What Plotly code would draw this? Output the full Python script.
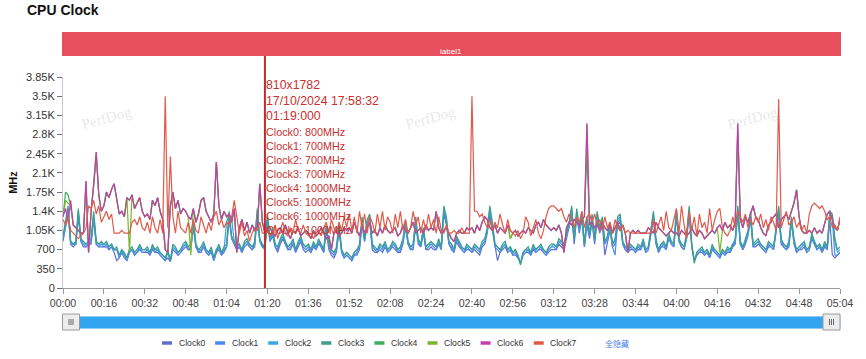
import plotly.graph_objects as go

# ---------------- data ----------------
seconds = list(range(305))
tick_seconds = list(range(0, 305, 16))
tick_labels = ["%02d:%02d" % (s // 60, s % 60) for s in tick_seconds]
y_tick_values = [0, 350, 700, 1050, 1400, 1750, 2100, 2450, 2800, 3150, 3500, 3850]
y_tick_labels = ["0", "350", "700", "1.05K", "1.4K", "1.75K", "2.1K", "2.45K", "2.8K", "3.15K", "3.5K", "3.85K"]

series_names = ["Clock0", "Clock1", "Clock2", "Clock3", "Clock4", "Clock5", "Clock6", "Clock7"]
series_colors = ["#6070c8", "#4a8af4", "#35a8de", "#3f9d8a", "#3cad5a", "#7ab52a", "#c23db4", "#e05a4a"]

clock0 = [
    850, 1100, 1350, 800, 750, 800, 1300, 850, 750, 750, 800, 800, 1250, 800, 750, 750,
    750, 750, 700, 750, 650, 500, 550, 650, 550, 500, 650, 700, 600, 650, 700, 650,
    650, 650, 600, 700, 650, 650, 600, 550, 500, 550, 480, 700, 650, 600, 650, 700,
    750, 700, 700, 1100, 750, 650, 650, 750, 650, 600, 650, 500, 650, 700, 600, 650,
    750, 1250, 900, 800, 700, 750, 650, 750, 800, 750, 700, 750, 1300, 850, 750, 800,
    1200, 850, 950, 750, 650, 800, 900, 800, 700, 700, 800, 650, 750, 850, 700, 650,
    700, 650, 750, 700, 800, 750, 650, 1050, 700, 600, 550, 650, 1050, 650, 550, 600,
    550, 500, 600, 600, 700, 1150, 850, 1150, 1200, 700, 650, 650, 700, 650, 750, 650,
    700, 750, 700, 650, 650, 800, 1100, 800, 700, 700, 1150, 800, 750, 1000, 700, 700,
    750, 700, 700, 800, 700, 1350, 1150, 800, 700, 650, 850, 750, 700, 650, 700, 700,
    650, 700, 650, 600, 750, 800, 1000, 1350, 1050, 750, 500, 650, 700, 750, 650, 700,
    600, 600, 550, 450, 600, 650, 650, 600, 700, 650, 700, 700, 650, 600, 650, 700,
    700, 700, 800, 750, 700, 900, 1100, 1350, 800, 1300, 1000, 1250, 750, 1150, 900, 1200,
    800, 1250, 1000, 1150, 600, 850, 1050, 750, 800, 1150, 1200, 800, 700, 650, 700, 700,
    650, 700, 700, 800, 650, 700, 1000, 1250, 800, 650, 750, 750, 700, 900, 800, 750,
    1300, 850, 750, 700, 900, 1350, 750, 500, 600, 650, 650, 600, 650, 550, 700, 650,
    600, 550, 650, 600, 650, 650, 750, 800, 1350, 800, 700, 800, 950, 1250, 750, 750,
    800, 750, 700, 650, 750, 750, 700, 1000, 1350, 800, 750, 700, 750, 1200, 800, 650,
    700, 700, 750, 650, 700, 900, 800, 700, 750, 650, 750, 700, 1250, 600, 550, 600,
    650,
]

clock1 = [
    900, 1150, 1400, 800, 800, 800, 1350, 850, 800, 750, 800, 850, 1300, 800, 750, 800,
    750, 800, 700, 750, 700, 700, 550, 650, 600, 500, 650, 700, 600, 650, 750, 650,
    650, 700, 600, 750, 650, 700, 600, 550, 500, 650, 500, 750, 700, 600, 650, 750,
    800, 700, 750, 1150, 750, 650, 700, 800, 650, 600, 700, 500, 650, 750, 600, 700,
    750, 1300, 900, 800, 700, 750, 650, 800, 850, 750, 700, 800, 1350, 850, 750, 700,
    1250, 850, 1000, 750, 700, 850, 950, 800, 700, 750, 850, 650, 800, 900, 750, 700,
    750, 650, 800, 700, 850, 750, 650, 1100, 750, 650, 600, 700, 1100, 650, 550, 600,
    550, 500, 600, 650, 750, 1200, 850, 1200, 1250, 750, 700, 650, 750, 700, 800, 650,
    700, 800, 750, 650, 700, 850, 1150, 800, 700, 750, 1200, 850, 750, 1050, 700, 750,
    800, 750, 700, 850, 700, 1400, 1200, 800, 750, 650, 900, 800, 700, 650, 750, 700,
    650, 750, 700, 650, 800, 850, 1050, 1400, 1100, 750, 700, 650, 750, 800, 650, 700,
    600, 650, 550, 450, 600, 650, 700, 600, 750, 650, 700, 750, 650, 600, 700, 750,
    750, 700, 850, 800, 750, 950, 1100, 1400, 850, 1350, 1050, 1300, 750, 1200, 950, 1250,
    850, 1300, 1050, 1200, 800, 900, 1100, 750, 600, 1200, 1250, 800, 700, 650, 750, 700,
    650, 750, 700, 850, 650, 700, 1050, 1300, 850, 650, 750, 800, 700, 950, 800, 750,
    1350, 850, 750, 700, 950, 1400, 750, 500, 600, 650, 700, 600, 650, 550, 750, 650,
    600, 550, 650, 600, 700, 650, 750, 850, 1400, 800, 700, 850, 1000, 1300, 750, 800,
    850, 750, 700, 650, 800, 750, 700, 1050, 1400, 850, 750, 700, 800, 1250, 850, 650,
    700, 750, 800, 650, 700, 950, 800, 700, 750, 650, 800, 700, 1300, 1250, 600, 600,
    650,
]

clock2 = [
    900, 1200, 1450, 850, 800, 800, 1400, 900, 800, 800, 850, 850, 1350, 850, 800, 800,
    800, 800, 750, 800, 700, 700, 600, 700, 600, 550, 700, 700, 650, 700, 750, 700,
    700, 700, 650, 750, 700, 700, 650, 600, 550, 650, 500, 750, 700, 650, 700, 750,
    800, 750, 800, 1200, 800, 700, 700, 800, 700, 650, 700, 550, 700, 750, 650, 700,
    1200, 1350, 1250, 850, 750, 800, 700, 800, 850, 800, 750, 800, 1400, 850, 800, 700,
    1300, 900, 1050, 800, 750, 850, 950, 850, 750, 800, 850, 700, 800, 900, 800, 750,
    800, 700, 800, 750, 850, 800, 700, 1100, 800, 700, 650, 700, 1150, 700, 600, 650,
    600, 550, 650, 700, 750, 1250, 900, 1200, 1300, 800, 700, 700, 800, 750, 800, 700,
    750, 800, 800, 700, 750, 850, 1200, 850, 750, 800, 1250, 850, 800, 1050, 750, 800,
    800, 800, 750, 850, 750, 1450, 1250, 850, 800, 700, 900, 850, 750, 700, 750, 750,
    700, 750, 750, 700, 800, 850, 1050, 1450, 1150, 800, 750, 700, 750, 800, 700, 750,
    650, 700, 600, 450, 650, 700, 700, 650, 750, 700, 750, 750, 700, 650, 700, 750,
    800, 750, 850, 850, 800, 950, 1150, 1450, 900, 1400, 1050, 1350, 800, 1250, 1000, 1300,
    900, 1350, 1050, 1250, 850, 900, 1150, 800, 850, 1250, 1300, 850, 750, 700, 750, 750,
    700, 750, 750, 850, 700, 750, 1050, 1350, 850, 700, 800, 800, 750, 950, 850, 800,
    1400, 900, 800, 750, 950, 1450, 800, 500, 650, 700, 700, 650, 700, 600, 750, 700,
    650, 600, 700, 650, 700, 700, 800, 850, 1450, 850, 750, 850, 1000, 1350, 800, 800,
    850, 800, 750, 700, 800, 800, 750, 1050, 1450, 850, 800, 750, 800, 1250, 850, 700,
    750, 800, 800, 700, 750, 950, 850, 750, 800, 700, 800, 750, 1350, 1300, 850, 650,
    700,
]

clock3 = [
    950, 1250, 1500, 850, 800, 850, 1450, 900, 850, 800, 850, 900, 1400, 850, 800, 850,
    800, 850, 750, 800, 700, 750, 600, 700, 650, 550, 700, 750, 650, 700, 800, 700,
    700, 750, 650, 800, 700, 750, 650, 600, 550, 700, 500, 800, 750, 650, 700, 800,
    850, 750, 800, 1250, 800, 700, 750, 850, 700, 650, 750, 550, 700, 800, 650, 750,
    800, 1400, 950, 850, 750, 800, 700, 850, 900, 800, 750, 850, 1450, 900, 800, 700,
    1350, 900, 1100, 800, 750, 900, 1000, 850, 750, 800, 900, 700, 850, 950, 800, 750,
    800, 700, 850, 750, 900, 800, 700, 1150, 800, 700, 650, 750, 1200, 700, 600, 650,
    600, 550, 650, 700, 800, 1300, 900, 1250, 1350, 800, 750, 700, 800, 750, 850, 700,
    750, 850, 800, 700, 750, 900, 1250, 850, 750, 800, 1300, 900, 800, 1100, 750, 800,
    850, 800, 750, 900, 750, 1500, 1300, 850, 800, 700, 950, 850, 750, 700, 800, 750,
    700, 800, 750, 700, 850, 900, 1100, 1500, 1200, 800, 750, 700, 800, 850, 700, 750,
    650, 700, 600, 420, 650, 700, 750, 650, 800, 700, 750, 800, 700, 650, 750, 800,
    800, 750, 900, 850, 800, 1000, 1200, 1500, 900, 1450, 1100, 1400, 800, 1300, 1000, 1350,
    900, 1400, 1100, 1300, 850, 950, 1200, 800, 900, 1300, 1350, 850, 750, 700, 800, 750,
    700, 800, 750, 900, 700, 750, 1100, 1400, 900, 700, 800, 850, 750, 1000, 850, 800,
    1450, 900, 800, 750, 1000, 1500, 800, 450, 650, 700, 750, 650, 700, 600, 800, 700,
    650, 600, 700, 650, 750, 700, 800, 900, 1500, 850, 750, 900, 1050, 1400, 800, 850,
    900, 800, 750, 700, 850, 800, 750, 1100, 1500, 900, 800, 750, 850, 1300, 900, 700,
    750, 800, 850, 700, 750, 1000, 850, 750, 800, 700, 850, 750, 1400, 1350, 900, 700,
    750,
]

clock4 = [
    1300, 1750, 1700, 1500, 1150, 1100, 1050, 1000, 1000, 1900, 650, 1400, 1850, 2400, 1700, 1400,
    1500, 1750, 1650, 1800, 1900, 1600, 1350, 1400, 1300, 1650, 1600, 1700, 1450, 1550, 1650, 1400,
    1300, 1350, 1250, 1600, 1500, 1650, 1400, 1250, 700, 650, 1500, 1750, 1450, 1600, 1350, 1450,
    1400, 1300, 1250, 1450, 1200, 1350, 1600, 1650, 1400, 1300, 1200, 1350, 2300, 1500, 1250, 1400,
    1300, 1350, 1200, 1450, 650, 1100, 1250, 1050, 1200, 1000, 1150, 1050, 1100, 1900, 1200, 1000,
    1050, 1100, 1000, 950, 1050, 1100, 1000, 1150, 1000, 900, 1050, 1000, 1100, 950, 1000, 1050,
    1000, 900, 1050, 950, 1000, 1100, 1000, 900, 950, 700, 1000, 1050, 950, 1000, 1100, 1050,
    1100, 1000, 1200, 1050, 950, 1150, 1000, 1100, 1200, 1000, 1050, 950, 1100, 1000, 1150, 1050,
    1000, 1050, 1100, 950, 1000, 1150, 1050, 1000, 1100, 1200, 1000, 1050, 1100, 1000, 1150, 1050,
    1100, 1050, 1400, 1100, 1000, 1050, 1100, 1000, 900, 850, 1000, 1050, 1000, 1000, 1100, 1050,
    1100, 1000, 1150, 1050, 1200, 1300, 1250, 1100, 1050, 1150, 1000, 1100, 1050, 1000, 1150, 900,
    1000, 1050, 950, 1000, 1050, 1000, 1100, 1050, 1000, 1150, 1200, 1100, 1250, 1150, 1100, 1050,
    1100, 1050, 1150, 1000, 650, 1100, 1200, 1150, 1250, 1200, 1150, 1250, 1300, 2500, 1150, 1200,
    1100, 1150, 1050, 1200, 1100, 1050, 1150, 1000, 1100, 1200, 1050, 1150, 1000, 650, 1000, 1050,
    1000, 1050, 1000, 1000, 1000, 1100, 1050, 1000, 1200, 1100, 1050, 1000, 950, 1000, 1050, 1000,
    1000, 950, 1050, 1000, 950, 1000, 1100, 1000, 950, 1050, 1000, 900, 950, 1000, 1050, 1000,
    1100, 1150, 1050, 1200, 1100, 1150, 1050, 1200, 2800, 1250, 1100, 1300, 1200, 1350, 1500, 1300,
    1250, 1100, 1000, 950, 1150, 1200, 1300, 1350, 1100, 1250, 1300, 1350, 1250, 1400, 1550, 1790,
    1300, 1050, 1000, 1000, 1050, 1000, 1100, 1000, 1050, 1000, 1200, 1350, 1400, 1250, 1100, 1050,
    1250,
]

clock5 = [
    1300, 1600, 1550, 1500, 1150, 1100, 1050, 1000, 1000, 1950, 650, 1400, 1900, 2480, 1700, 1400,
    1500, 1750, 1650, 1800, 1900, 1600, 1350, 1400, 1300, 1650, 650, 1700, 1450, 1550, 1650, 1400,
    1300, 1350, 1250, 1600, 1500, 1650, 1400, 1250, 700, 650, 1500, 1750, 1450, 1600, 1350, 1450,
    1400, 1300, 600, 1450, 1200, 1350, 1600, 1650, 1400, 1300, 1200, 1350, 2300, 1500, 1250, 1400,
    1300, 1350, 1200, 1450, 650, 1100, 1250, 1050, 1200, 1000, 1150, 1050, 1100, 1900, 1200, 1000,
    1050, 1100, 1000, 950, 1050, 1100, 1000, 1150, 1000, 900, 1050, 1000, 1100, 950, 1000, 1050,
    1000, 900, 1050, 950, 1000, 1100, 1000, 900, 950, 700, 1000, 1050, 950, 1000, 1100, 1050,
    1100, 1000, 1200, 1050, 950, 1150, 1000, 1100, 1200, 1000, 1050, 950, 1100, 1000, 1150, 1050,
    1000, 1050, 1100, 950, 1000, 1150, 1050, 1000, 1100, 1200, 1000, 1050, 1100, 1000, 1150, 1050,
    1100, 1050, 1400, 1100, 1000, 1050, 1100, 1000, 900, 850, 1000, 1050, 1000, 1000, 1100, 1050,
    1100, 1000, 1150, 1050, 1200, 1300, 1250, 1100, 1050, 1150, 1000, 1100, 1050, 1000, 1150, 900,
    1000, 1050, 950, 1000, 1050, 1000, 1100, 1050, 1000, 1150, 1200, 1100, 1250, 1150, 1100, 1050,
    1100, 1050, 1150, 1000, 650, 1100, 1200, 1150, 1250, 1200, 1150, 1250, 1300, 3000, 1150, 1200,
    1100, 1150, 1050, 1200, 1100, 1050, 1150, 1000, 1100, 1200, 1050, 1150, 1000, 650, 1000, 1050,
    1000, 1050, 1000, 1000, 1000, 1100, 1050, 1000, 1200, 1100, 1050, 1000, 950, 1000, 1050, 1000,
    1000, 950, 1050, 1000, 950, 1000, 1100, 1000, 950, 1050, 1000, 900, 950, 1000, 1050, 1000,
    1100, 650, 1050, 1200, 1100, 1150, 1050, 1200, 3000, 1250, 1100, 1300, 1200, 1350, 1500, 1300,
    1250, 1100, 1000, 950, 1150, 1200, 1300, 1350, 1100, 1250, 1300, 1350, 1250, 1400, 1550, 1790,
    1300, 1050, 1000, 1000, 1050, 1000, 1100, 1000, 1050, 1000, 1200, 1350, 1400, 1250, 1100, 1050,
    1250,
]

clock6 = [
    1300, 1450, 1200, 1600, 1150, 1100, 1050, 1000, 1000, 1950, 650, 1400, 1900, 2480, 1700, 1400,
    1500, 1750, 1650, 1800, 1900, 1600, 1350, 1400, 1300, 1650, 1600, 1700, 1450, 1550, 1650, 1400,
    1300, 1350, 1250, 1600, 1500, 1650, 1400, 1250, 700, 650, 1500, 1750, 1450, 1600, 1350, 1450,
    1400, 1300, 1250, 1450, 1200, 1350, 1600, 1650, 1400, 1300, 1200, 1350, 2300, 1500, 1250, 1400,
    1300, 1350, 1200, 1450, 650, 1100, 1250, 1050, 1200, 1000, 1150, 1050, 1100, 1900, 1200, 1000,
    1050, 1100, 1000, 950, 1050, 1100, 1000, 1150, 1000, 900, 1050, 1000, 1100, 950, 1000, 1050,
    1000, 900, 1050, 950, 1000, 1100, 1000, 900, 950, 700, 1000, 1050, 950, 1000, 1100, 1050,
    1100, 1000, 1200, 1050, 950, 1150, 1000, 1100, 1200, 1000, 1050, 950, 1100, 1000, 1150, 1050,
    1000, 1050, 1100, 950, 1000, 1150, 1050, 1000, 1100, 1200, 1000, 1050, 1100, 1000, 1150, 1050,
    1100, 1050, 1400, 1100, 1000, 1050, 1100, 1000, 900, 850, 1000, 1050, 1000, 1000, 1100, 1050,
    1100, 1000, 1150, 1050, 1200, 1300, 1250, 1100, 1050, 1150, 1000, 1100, 1050, 1000, 1150, 1050,
    1000, 1050, 950, 1000, 1050, 1000, 1100, 1050, 1000, 1150, 1200, 1100, 1250, 1150, 1100, 1050,
    1100, 1050, 1150, 1000, 650, 1100, 1200, 1150, 1250, 1200, 1150, 1250, 1300, 3000, 1150, 1200,
    1100, 1150, 1050, 1200, 1100, 1050, 1150, 1000, 1100, 1200, 1050, 1150, 1000, 650, 1000, 1050,
    1000, 1050, 1000, 1000, 1000, 1100, 1050, 1000, 1200, 1100, 1050, 1000, 950, 1000, 1050, 1000,
    1000, 950, 1050, 1000, 950, 1000, 1100, 1000, 950, 1050, 1000, 900, 950, 1000, 1050, 1000,
    1100, 1150, 1050, 1200, 1100, 1150, 1050, 1200, 3000, 1250, 1100, 1300, 1200, 1350, 1500, 1300,
    1250, 1100, 1000, 950, 1150, 1200, 1300, 1350, 1100, 1250, 1300, 1350, 1250, 1400, 1550, 1790,
    1300, 1050, 1000, 1000, 1050, 1000, 1100, 1000, 1050, 1000, 1200, 1350, 1400, 1250, 1100, 1050,
    1250,
]

clock7 = [
    1250, 1150, 1300, 1050, 1000, 950, 900, 950, 1000, 1100, 1500, 1450, 1600, 1350, 1500, 1200,
    1300, 1400, 1250, 1350, 1000, 1000, 1000, 1050, 1000, 1000, 1000, 1200, 1250, 1150, 1300, 1100,
    1050, 1200, 1000, 1300, 1100, 1000, 1250, 1000, 3500, 1100, 2400, 1300, 1000, 1400, 1100, 1050,
    1000, 1200, 1000, 1250, 1050, 1000, 1300, 1150, 1000, 1200, 1050, 1300, 1400, 1150, 1250, 1100,
    1200, 1150, 1300, 1600, 1250, 1000, 1200, 950, 1050, 850, 1000, 1100, 1050, 1200, 1000, 1000,
    1100, 950, 1000, 1150, 900, 1050, 1200, 1000, 950, 1100, 1000, 1250, 1050, 1000, 1150, 1000,
    950, 1000, 900, 1000, 1050, 950, 1100, 1200, 1000, 1250, 1100, 1000, 1200, 1050, 1300, 1100,
    1350, 1050, 1300, 1000, 1400, 1100, 1350, 1000, 1300, 1200, 1000, 1350, 1100, 1400, 1050, 1300,
    1200, 1000, 1350, 1100, 1400, 1050, 1250, 1000, 1100, 1400, 1150, 1300, 1000, 1250, 1050, 1350,
    1100, 1250, 1000, 1300, 1050, 1000, 1150, 1000, 1000, 1050, 1000, 1000, 1100, 1000, 1000, 1000,
    3500, 1400, 1400, 1300, 1350, 1200, 1100, 1250, 1050, 1200, 1100, 1350, 1150, 1000, 1250, 1050,
    1000, 950, 1050, 900, 1000, 1300, 1200, 950, 1100, 1250, 1000, 900, 1050, 1300, 1450, 1500,
    1500, 1450, 1400, 1450, 1300, 1200, 1350, 1250, 1100, 1300, 1200, 1400, 1100, 1300, 1350, 1200,
    1350, 1150, 1250, 1050, 1300, 1100, 1200, 1000, 1250, 1100, 1050, 1150, 1000, 1050, 1000, 1000,
    1000, 1000, 1000, 1000, 1000, 1000, 1000, 1250, 1000, 1150, 1300, 1050, 1400, 1100, 1050, 1250,
    1450, 1000, 1500, 1150, 900, 1400, 1050, 1300, 950, 1350, 1100, 1200, 1000, 1450, 1050, 1250,
    1400, 1450, 1100, 1000, 950, 1050, 1300, 1100, 1400, 1300, 1200, 1350, 1100, 1250, 1150, 1300,
    1200, 1350, 1100, 1250, 1050, 1300, 1200, 1050, 3450, 1100, 1250, 1400, 1150, 1200, 1300, 1100,
    1200, 1050, 1150, 1000, 1350, 1500, 1550, 1500, 1450, 1500, 1400, 1250, 1300, 1100, 1150, 1050,
    1300,
]

series_values = [clock0, clock1, clock2, clock3, clock4, clock5, clock6, clock7]

cursor_second = 79
cursor_header = ["810x1782", "17/10/2024 17:58:32", "01:19:000"]
band_label = "label1"
hide_all_label = "全隐藏"
watermark = "PerfDog"

# ---------------- layout helpers (window pixels -> paper) ----------------
W, H = 866, 359
PL, PR, PT, PB = 63, 840, 77, 288   # plot area in pixels


def px_x(px):
    return (px - PL) / (PR - PL)


def px_y(py):
    return (PB - py) / (PB - PT)


fig = go.Figure()
for name, color, vals in zip(series_names, series_colors, series_values):
    fig.add_trace(go.Scatter(
        x=seconds, y=vals, name=name, mode="lines",
        line=dict(color=color, width=1.2), showlegend=False,
    ))

shapes = []
annotations = []

# red label band
shapes.append(dict(type="rect", xref="paper", yref="paper",
                   x0=px_x(62), x1=px_x(841), y0=px_y(56), y1=px_y(32),
                   fillcolor="#e84f5c", line=dict(width=0), layer="above"))
annotations.append(dict(text=band_label, xref="paper", yref="paper",
                        x=px_x(451), y=px_y(45), showarrow=False,
                        font=dict(size=8, color="white", family="Liberation Sans")))

# cursor line
cursor_color = "#c22a30"
shapes.append(dict(type="line", xref="x", yref="paper",
                   x0=cursor_second, x1=cursor_second, y0=0, y1=px_y(56),
                   line=dict(color=cursor_color, width=2), layer="above"))

header_y = [85, 100.5, 116]
for txt, yy in zip(cursor_header, header_y):
    annotations.append(dict(text=txt, xref="x", yref="paper", x=cursor_second, xshift=-1,
                            y=px_y(yy), xanchor="left", yanchor="middle", showarrow=False,
                            font=dict(size=12.3, color="#c9302f", family="Liberation Sans")))
for i, (name, vals) in enumerate(zip(series_names, series_values)):
    annotations.append(dict(text="%s: %dMHz" % (name, vals[cursor_second]),
                            xref="x", yref="paper", x=cursor_second, xshift=-1,
                            y=px_y(131.5 + i * 14.0), xanchor="left", yanchor="middle",
                            showarrow=False,
                            font=dict(size=10.8, color="#c9302f", family="Liberation Sans")))

# watermarks
for wx in [77, 430, 782]:
    annotations.append(dict(text=watermark, xref="paper", yref="paper",
                            x=px_x(wx), y=px_y(101), showarrow=False, textangle=-15,
                            font=dict(size=15, color="rgba(170,170,170,0.28)",
                                      family="Liberation Serif")))

# data-zoom slider look
shapes.append(dict(type="rect", xref="paper", yref="paper",
                   x0=0, x1=1, y0=px_y(328.5), y1=px_y(316.5),
                   fillcolor="#33a5f0", line=dict(color="#8fcaf5", width=1)))
for hx0, hx1 in [(62.5, 79.5), (823, 840)]:
    shapes.append(dict(type="rect", xref="paper", yref="paper",
                       x0=px_x(hx0), x1=px_x(hx1), y0=px_y(330), y1=px_y(314),
                       fillcolor="#ececec", line=dict(color="#9a9a9a", width=1)))
    cx = (hx0 + hx1) / 2
    for dx in (-2, 0, 2):
        shapes.append(dict(type="line", xref="paper", yref="paper",
                           x0=px_x(cx + dx), x1=px_x(cx + dx), y0=px_y(325), y1=px_y(319),
                           line=dict(color="#666666", width=1)))

# legend (drawn)
leg_y = px_y(343)
for i, (name, color) in enumerate(zip(series_names, series_colors)):
    x0 = 162 + i * 53.1
    shapes.append(dict(type="line", xref="paper", yref="paper",
                       x0=px_x(x0), x1=px_x(x0 + 10), y0=leg_y, y1=leg_y,
                       line=dict(color=color, width=3.5)))
    annotations.append(dict(text=name, xref="paper", yref="paper", x=px_x(x0 + 14.5),
                            y=leg_y, xanchor="left", yanchor="middle", showarrow=False,
                            font=dict(size=8.6, color="#333333", family="Liberation Sans")))
annotations.append(dict(text=hide_all_label, xref="paper", yref="paper", x=px_x(603),
                        y=leg_y, xanchor="left", yanchor="middle", showarrow=False,
                        font=dict(size=8, color="#4a7ef0", family="Noto Sans CJK SC")))

fig.update_layout(
    width=W, height=H,
    margin=dict(l=PL, r=W - PR, t=PT, b=H - PB, pad=0),
    paper_bgcolor="white", plot_bgcolor="white",
    title=dict(text="<b>CPU Clock</b>", x=27 / W, xref="container", xanchor="left",
               y=1 - 10.5 / H, yref="container", yanchor="middle",
               font=dict(size=14, color="#111111", family="Liberation Sans")),
    font=dict(family="Liberation Sans", size=11, color="#333333"),
    shapes=shapes, annotations=annotations, showlegend=False,
    xaxis=dict(range=[0, 304], tickmode="array", tickvals=tick_seconds, ticktext=tick_labels,
               showgrid=False, zeroline=False, showline=True, linecolor="#9a9a9a", linewidth=1,
               ticks="outside", ticklen=5, tickcolor="#9a9a9a",
               tickfont=dict(size=10.6, color="#444444")),
    yaxis=dict(range=[0, 3850], tickmode="array", tickvals=y_tick_values, ticktext=y_tick_labels,
               showgrid=False, zeroline=False, showline=True, linecolor="#c3c8d3", linewidth=1,
               ticks="outside", ticklen=5, tickcolor="#6e7079", automargin=False,
               tickfont=dict(size=11, color="#333333"),
               title=dict(text="<b>MHz</b>", standoff=6, font=dict(size=11, color="#111111"))),
)

# remove the default page margin so the figure sits at the window's top-left corner
fig.write_html("out.html", config={"displayModeBar": False},
               post_script="document.body.style.margin='0px';")
